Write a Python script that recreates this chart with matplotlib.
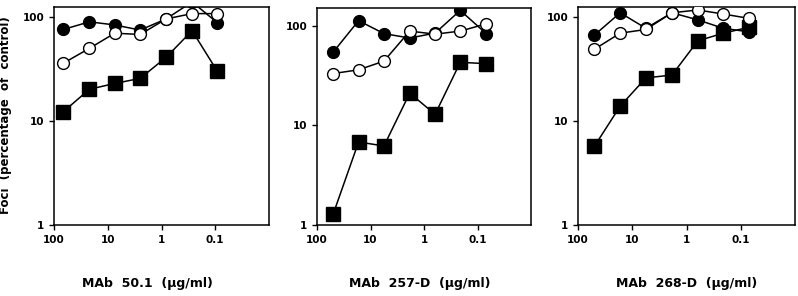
import matplotlib
matplotlib.use("Agg")
import matplotlib.pyplot as plt
from matplotlib.ticker import FixedLocator, FixedFormatter, NullLocator

plt.rcParams['font.family'] = ['DejaVu Sans']

# Concentrations (ug/ml)
conc_50 = [67, 22, 7.4, 2.5, 0.82, 0.27, 0.091]
conc_257 = [50, 16.7, 5.6, 1.85, 0.62, 0.21, 0.069]
conc_268 = [50, 16.7, 5.6, 1.85, 0.62, 0.21, 0.069]

# Foci (percentage of control)
filled_50 = [76, 90, 84, 75, 96, 140, 88]
open_50 = [36, 50, 70, 68, 96, 108, 108]
square_50 = [12.3, 20.2, 23, 25.7, 41, 74, 30]

filled_257 = [54, 112, 83, 75, 84, 142, 83]
open_257 = [33, 36, 44, 88, 82, 88, 104]
square_257 = [1.28, 6.8, 6.2, 21, 12.9, 42.8, 41.5]

filled_268 = [67, 110, 78, 110, 94, 78, 72]
open_268 = [49, 70, 76, 110, 117, 107, 97]
square_268 = [5.7, 13.9, 26, 27.7, 59, 70, 80]

x_ticks = [100, 10, 1, 0.1]
x_ticklabels = ["100", "10", "1", "0.1"]
y_ticks = [1, 10, 100]
y_ticklabels = ["1", "10", "100"]

panel_labels = ["MAb  50.1  (\u03bcg/ml)", "MAb  257-D  (\u03bcg/ml)", "MAb  268-D  (\u03bcg/ml)"]

W, H = 798, 296
fig = plt.figure(figsize=(W / 100, H / 100), dpi=100)

# (left, right, top, bottom) in pixels
boxes = [(54, 269, 7, 225), (317, 531, 8, 225), (578, 795, 7, 225)]
ytops = [125, 150, 125]
label_centers = [147, 420, 687]

panels = [
    (conc_50, filled_50, open_50, square_50),
    (conc_257, filled_257, open_257, square_257),
    (conc_268, filled_268, open_268, square_268),
]

for i, ((l, r, t, b), (cx, fc, oc, sq)) in enumerate(zip(boxes, panels)):
    ax = fig.add_axes([l / W, (H - b) / H, (r - l) / W, (b - t) / H])
    ax.set_xscale('log')
    ax.set_yscale('log')
    ax.set_xlim(100, 0.01)
    ax.set_ylim(1, ytops[i])
    ax.plot(cx, fc, '-o', color='black', markersize=8.5, markerfacecolor='black',
            markeredgecolor='black', linewidth=1.1, zorder=3)
    ax.plot(cx, sq, '-s', color='black', markersize=9.5, markerfacecolor='black',
            markeredgecolor='black', linewidth=1.1, zorder=3)
    ax.plot(cx, oc, '-o', color='black', markersize=8.5, markerfacecolor='white',
            markeredgecolor='black', markeredgewidth=1.0, linewidth=1.1, zorder=4)
    for s in ax.spines.values():
        s.set_linewidth(1.1)
    ax.xaxis.set_major_locator(FixedLocator(x_ticks))
    ax.xaxis.set_major_formatter(FixedFormatter(x_ticklabels))
    ax.yaxis.set_major_locator(FixedLocator(y_ticks))
    ax.yaxis.set_major_formatter(FixedFormatter(y_ticklabels))
    ax.xaxis.set_minor_locator(NullLocator())
    ax.yaxis.set_minor_locator(NullLocator())
    ax.tick_params(axis='both', which='major', direction='out', length=3.5, width=1.0,
                   labelsize=7.5, pad=3.5)
    for lab in ax.get_xticklabels() + ax.get_yticklabels():
        lab.set_fontweight('bold')
    fig.text(label_centers[i] / W, 1 - 283 / H, panel_labels[i], ha='center', va='center',
             fontsize=9, fontweight='bold')

fig.text(6 / W, 1 - 115 / H, "Foci  (percentage  of  control)", rotation=90,
         ha='center', va='center', fontsize=8.5, fontweight='bold')

fig.savefig("out.png", dpi=100)
